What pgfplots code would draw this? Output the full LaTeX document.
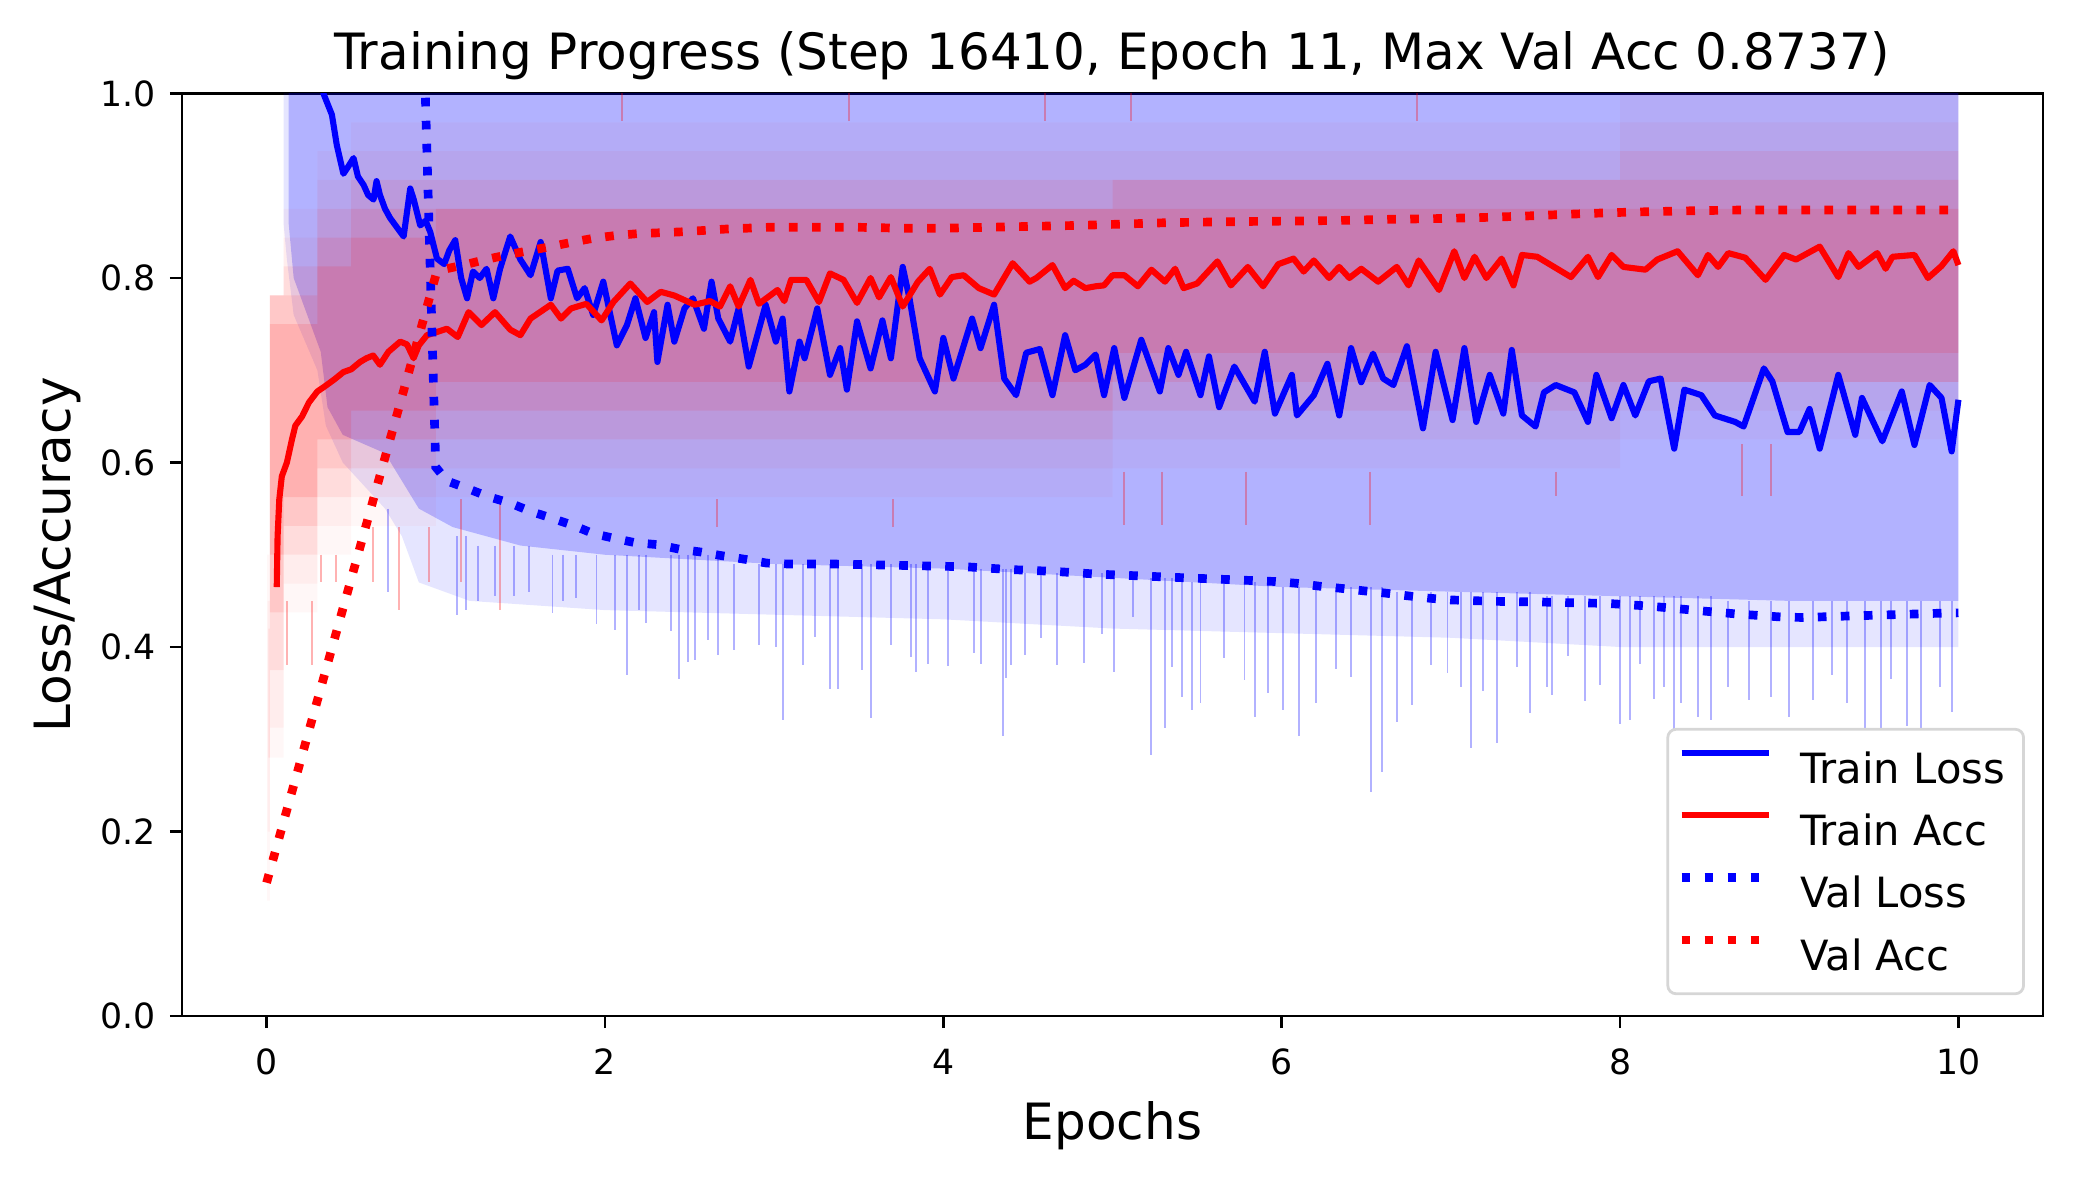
\documentclass[border=0pt]{standalone}
\usepackage{fontspec}
\setmainfont{DejaVu Sans}
\usepackage{pgfplots}
\pgfplotsset{compat=1.18}
\begin{document}
\begin{tikzpicture}
\path[use as bounding box] (0,0) rectangle (746.28pt,423.36pt);
\begin{axis}[
  at={(65.52pt,57.6pt)}, anchor=south west,
  scale only axis, width=669.96pt, height=332.1pt,
  xmin=-0.5, xmax=10.5, ymin=0, ymax=1,
  xtick={0,2,4,6,8,10}, ytick={0,0.2,0.4,0.6,0.8,1.0},
  tick pos=left, tick align=outside, major tick length=4.375pt,
  tick style={black, line width=1pt},
  axis line style={line width=1pt, black},
  /pgf/number format/assume math mode=true,
  tick label style={font=\fontsize{12.5}{15}\selectfont},
  yticklabel style={/pgf/number format/fixed, /pgf/number format/fixed zerofill, /pgf/number format/precision=1, anchor=east, inner sep=0pt, xshift=-5.0pt},
  xticklabel style={anchor=base, inner sep=0pt, yshift=-16.6pt},
  every axis title shift=0pt,
  title={Training Progress (Step 16410, Epoch 11, Max Val Acc 0.8737)},
  title style={at={(axis description cs:0.5,1.0265)}, anchor=base, inner sep=0pt, font=\fontsize{18}{21.6}\selectfont},
  xlabel={Epochs},
  xlabel style={at={(axis description cs:0.5,-0.1334)}, anchor=base, inner sep=0pt, font=\fontsize{18}{21.6}\selectfont},
  ylabel={Loss/Accuracy},
  ylabel style={at={(axis description cs:-0.0599,0.5)}, anchor=base, rotate=0, inner sep=0pt, font=\fontsize{18}{21.6}\selectfont},
  legend style={at={(axis description cs:1,0)}, anchor=south east, xshift=-6.5pt, yshift=7.5pt,
    draw=black!16, line width=1pt, rounded corners=3pt, fill=white,
    inner xsep=3.4pt, inner ysep=7pt, row sep=8.5pt,
    font=\fontsize{15}{18}\selectfont,
    nodes={inner sep=0pt, text height=12.4pt, text depth=1.5pt},
    /tikz/every odd column/.append style={column sep=9.7pt}},
  legend cell align=left,
  legend image code/.code={\draw[#1] (0pt,5.45pt) -- (31.5pt,5.45pt);},
]
% ---------- raw training loss (light blue) ----------
\addplot[fill=blue, fill opacity=0.1, draw=none, forget plot] coordinates {
(0.10,1.05) (10.0,1.05) (10.0,0.40) (9,0.40) (8,0.40) (7,0.41) (6,0.415) (5,0.42) (4,0.43) (3,0.435) (2,0.44) (1.2,0.45) (0.9,0.47) (0.8,0.52) (0.7,0.55) (0.45,0.60) (0.35,0.64) (0.3,0.70) (0.16,0.76) (0.12,0.82) (0.10,0.86)};
\addplot[fill=blue, fill opacity=0.222, draw=none, forget plot] coordinates {
(0.13,1.05) (10.0,1.05) (10.0,0.45) (9,0.45) (8,0.455) (7,0.46) (6,0.465) (5,0.475) (4,0.485) (3,0.49) (2,0.50) (1.5,0.51) (1.1,0.53) (0.9,0.55) (0.8,0.58) (0.7,0.61) (0.45,0.63) (0.36,0.66) (0.32,0.72) (0.2,0.78) (0.16,0.80) (0.13,0.86)};
\addplot[draw=blue, draw opacity=0.3, line width=0.7pt, unbounded coords=jump, forget plot] table[row sep=\\] {
x y\\
0.72 0.55\\ 0.72 0.46\\ nan nan\\
1.125 0.52\\ 1.125 0.435\\ nan nan\\
1.18 0.52\\ 1.18 0.44\\ nan nan\\
1.25 0.51\\ 1.25 0.45\\ nan nan\\
1.35 0.51\\ 1.35 0.455\\ nan nan\\
1.46 0.51\\ 1.46 0.455\\ nan nan\\
1.55 0.51\\ 1.55 0.46\\ nan nan\\
1.69 0.50\\ 1.69 0.437\\ nan nan\\
1.75 0.50\\ 1.75 0.45\\ nan nan\\
1.83 0.50\\ 1.83 0.453\\ nan nan\\
1.95 0.50\\ 1.95 0.425\\ nan nan\\
2.06 0.50\\ 2.06 0.418\\ nan nan\\
2.13 0.50\\ 2.13 0.370\\ nan nan\\
2.20 0.50\\ 2.20 0.44\\ nan nan\\
2.24 0.50\\ 2.24 0.426\\ nan nan\\
2.39 0.50\\ 2.39 0.417\\ nan nan\\
2.44 0.50\\ 2.44 0.365\\ nan nan\\
2.49 0.50\\ 2.49 0.384\\ nan nan\\
2.53 0.50\\ 2.53 0.386\\ nan nan\\
2.61 0.50\\ 2.61 0.408\\ nan nan\\
2.67 0.50\\ 2.67 0.391\\ nan nan\\
2.76 0.49\\ 2.76 0.397\\ nan nan\\
2.91 0.49\\ 2.91 0.402\\ nan nan\\
3.01 0.49\\ 3.01 0.400\\ nan nan\\
3.05 0.49\\ 3.05 0.321\\ nan nan\\
3.17 0.49\\ 3.17 0.380\\ nan nan\\
3.24 0.49\\ 3.24 0.411\\ nan nan\\
3.33 0.49\\ 3.33 0.355\\ nan nan\\
3.38 0.49\\ 3.38 0.355\\ nan nan\\
3.52 0.49\\ 3.52 0.375\\ nan nan\\
3.57 0.49\\ 3.57 0.323\\ nan nan\\
3.69 0.49\\ 3.69 0.402\\ nan nan\\
3.81 0.49\\ 3.81 0.389\\ nan nan\\
3.84 0.49\\ 3.84 0.373\\ nan nan\\
3.91 0.49\\ 3.91 0.382\\ nan nan\\
4.03 0.485\\ 4.03 0.379\\ nan nan\\
4.18 0.485\\ 4.18 0.393\\ nan nan\\
4.22 0.485\\ 4.22 0.382\\ nan nan\\
4.35 0.485\\ 4.35 0.303\\ nan nan\\
4.37 0.485\\ 4.37 0.366\\ nan nan\\
4.40 0.485\\ 4.40 0.380\\ nan nan\\
4.48 0.48\\ 4.48 0.391\\ nan nan\\
4.58 0.48\\ 4.58 0.41\\ nan nan\\
4.67 0.48\\ 4.67 0.380\\ nan nan\\
4.83 0.48\\ 4.83 0.383\\ nan nan\\
4.94 0.48\\ 4.94 0.414\\ nan nan\\
5.01 0.475\\ 5.01 0.373\\ nan nan\\
5.12 0.475\\ 5.12 0.433\\ nan nan\\
5.23 0.475\\ 5.23 0.283\\ nan nan\\
5.31 0.475\\ 5.31 0.312\\ nan nan\\
5.35 0.475\\ 5.35 0.378\\ nan nan\\
5.41 0.47\\ 5.41 0.346\\ nan nan\\
5.47 0.47\\ 5.47 0.332\\ nan nan\\
5.52 0.47\\ 5.52 0.339\\ nan nan\\
5.66 0.47\\ 5.66 0.388\\ nan nan\\
5.78 0.47\\ 5.78 0.364\\ nan nan\\
5.84 0.47\\ 5.84 0.324\\ nan nan\\
5.92 0.47\\ 5.92 0.350\\ nan nan\\
6.01 0.465\\ 6.01 0.332\\ nan nan\\
6.105 0.465\\ 6.105 0.303\\ nan nan\\
6.20 0.465\\ 6.20 0.339\\ nan nan\\
6.32 0.465\\ 6.32 0.376\\ nan nan\\
6.41 0.465\\ 6.41 0.367\\ nan nan\\
6.53 0.465\\ 6.53 0.243\\ nan nan\\
6.595 0.465\\ 6.595 0.265\\ nan nan\\
6.68 0.46\\ 6.68 0.319\\ nan nan\\
6.77 0.46\\ 6.77 0.337\\ nan nan\\
6.88 0.46\\ 6.88 0.38\\ nan nan\\
6.98 0.46\\ 6.98 0.372\\ nan nan\\
7.06 0.46\\ 7.06 0.357\\ nan nan\\
7.12 0.46\\ 7.12 0.290\\ nan nan\\
7.19 0.46\\ 7.19 0.352\\ nan nan\\
7.27 0.46\\ 7.27 0.296\\ nan nan\\
7.39 0.46\\ 7.39 0.378\\ nan nan\\
7.47 0.46\\ 7.47 0.328\\ nan nan\\
7.57 0.455\\ 7.57 0.357\\ nan nan\\
7.60 0.455\\ 7.60 0.348\\ nan nan\\
7.69 0.455\\ 7.69 0.39\\ nan nan\\
7.79 0.455\\ 7.79 0.341\\ nan nan\\
7.88 0.455\\ 7.88 0.359\\ nan nan\\
8.00 0.455\\ 8.00 0.317\\ nan nan\\
8.06 0.455\\ 8.06 0.321\\ nan nan\\
8.12 0.455\\ 8.12 0.382\\ nan nan\\
8.20 0.455\\ 8.20 0.344\\ nan nan\\
8.26 0.455\\ 8.26 0.357\\ nan nan\\
8.32 0.455\\ 8.32 0.292\\ nan nan\\
8.36 0.455\\ 8.36 0.339\\ nan nan\\
8.46 0.455\\ 8.46 0.324\\ nan nan\\
8.54 0.455\\ 8.54 0.321\\ nan nan\\
8.64 0.45\\ 8.64 0.357\\ nan nan\\
8.76 0.45\\ 8.76 0.343\\ nan nan\\
8.89 0.45\\ 8.89 0.346\\ nan nan\\
9.00 0.45\\ 9.00 0.324\\ nan nan\\
9.14 0.45\\ 9.14 0.343\\ nan nan\\
9.25 0.45\\ 9.25 0.37\\ nan nan\\
9.34 0.45\\ 9.34 0.339\\ nan nan\\
9.45 0.45\\ 9.45 0.310\\ nan nan\\
9.54 0.45\\ 9.54 0.312\\ nan nan\\
9.60 0.45\\ 9.60 0.365\\ nan nan\\
9.695 0.45\\ 9.695 0.314\\ nan nan\\
9.78 0.45\\ 9.78 0.292\\ nan nan\\
9.89 0.45\\ 9.89 0.357\\ nan nan\\
9.96 0.45\\ 9.96 0.330\\ nan nan\\
};
% ---------- raw training accuracy (light red), quantised levels ----------
\addplot[fill=red, fill opacity=0.03, draw=none, forget plot] coordinates {
(0.003,0.5) (0.02,0.5) (0.02,0.78125) (0.1,0.78125) (0.1,0.875) (0.3,0.875) (0.3,0.9375) (0.5,0.9375) (0.5,0.96875) (1,0.96875) (5,0.96875) (8,0.96875) (8,1.0) (10,1.0)
(10,0.625) (8,0.625) (8,0.59375) (5,0.59375) (5,0.5625) (1,0.5625) (1,0.53125) (0.5,0.53125) (0.5,0.5) (0.3,0.5) (0.3,0.4375) (0.1,0.4375) (0.1,0.28) (0.02,0.28) (0.02,0.125) (0.003,0.125)};
\addplot[fill=red, fill opacity=0.04, draw=none, forget plot] coordinates {
(0.006,0.45) (0.02,0.45) (0.02,0.78125) (0.1,0.78125) (0.1,0.84375) (0.3,0.84375) (0.3,0.90625) (0.5,0.90625) (0.5,0.9375) (1,0.9375) (5,0.9375) (8,0.9375) (8,0.96875) (10,0.96875)
(10,0.65625) (8,0.65625) (8,0.625) (5,0.625) (5,0.59375) (1,0.59375) (1,0.5625) (0.5,0.5625) (0.5,0.53125) (0.3,0.53125) (0.3,0.46875) (0.1,0.46875) (0.1,0.3125) (0.02,0.3125) (0.02,0.2) (0.006,0.2)};
\addplot[fill=red, fill opacity=0.07, draw=none, forget plot] coordinates {
(0.01,0.42) (0.02,0.42) (0.02,0.78125) (0.1,0.78125) (0.1,0.8125) (0.3,0.8125) (0.3,0.875) (0.5,0.875) (0.5,0.90625) (1,0.90625) (5,0.90625) (8,0.90625) (8,0.9375) (10,0.9375)
(10,0.6875) (8,0.6875) (8,0.65625) (5,0.65625) (5,0.625) (1,0.625) (1,0.59375) (0.5,0.59375) (0.5,0.5625) (0.3,0.5625) (0.3,0.5) (0.1,0.5) (0.1,0.375) (0.02,0.375) (0.02,0.28) (0.01,0.28)};
\addplot[fill=red, fill opacity=0.09, draw=none, forget plot] coordinates {
(0.02,0.78125) (0.1,0.78125) (0.3,0.78125) (0.3,0.84375) (0.5,0.84375) (0.5,0.875) (1,0.875) (5,0.875) (5,0.90625) (8,0.90625) (10,0.90625)
(10,0.6875) (8,0.6875) (5,0.6875) (5,0.65625) (1,0.65625) (1,0.625) (0.5,0.625) (0.5,0.59375) (0.3,0.59375) (0.3,0.53125) (0.1,0.53125) (0.1,0.4375) (0.02,0.4375)};
\addplot[fill=red, fill opacity=0.112, draw=none, forget plot] coordinates {
(0.02,0.75) (0.1,0.75) (0.3,0.75) (0.3,0.8125) (0.5,0.8125) (0.5,0.84375) (1,0.84375) (1,0.875) (5,0.875) (8,0.875) (10,0.875)
(10,0.71875) (8,0.71875) (5,0.71875) (5,0.6875) (1,0.6875) (1,0.65625) (0.5,0.65625) (0.5,0.625) (0.3,0.625) (0.3,0.5625) (0.1,0.5625) (0.1,0.5) (0.02,0.5)};
\addplot[draw=red, draw opacity=0.3, line width=0.7pt, unbounded coords=jump, forget plot] table[row sep=\\] {
x y\\
0.12 0.45\\ 0.12 0.38\\ nan nan\\
0.27 0.45\\ 0.27 0.38\\ nan nan\\
0.32 0.50\\ 0.32 0.47\\ nan nan\\
0.41 0.50\\ 0.41 0.47\\ nan nan\\
0.63 0.53\\ 0.63 0.47\\ nan nan\\
0.78 0.53\\ 0.78 0.44\\ nan nan\\
0.96 0.53\\ 0.96 0.47\\ nan nan\\
1.15 0.56\\ 1.15 0.47\\ nan nan\\
1.38 0.56\\ 1.38 0.44\\ nan nan\\
2.66 0.56\\ 2.66 0.53\\ nan nan\\
3.70 0.56\\ 3.70 0.53\\ nan nan\\
5.07 0.59\\ 5.07 0.532\\ nan nan\\
5.29 0.59\\ 5.29 0.532\\ nan nan\\
5.79 0.59\\ 5.79 0.532\\ nan nan\\
6.52 0.59\\ 6.52 0.532\\ nan nan\\
7.62 0.59\\ 7.62 0.564\\ nan nan\\
8.72 0.62\\ 8.72 0.564\\ nan nan\\
8.89 0.62\\ 8.89 0.564\\ nan nan\\
2.10 0.97\\ 2.10 1.0\\ nan nan\\
3.44 0.97\\ 3.44 1.0\\ nan nan\\
4.60 0.97\\ 4.60 1.0\\ nan nan\\
5.11 0.97\\ 5.11 1.0\\ nan nan\\
6.80 0.97\\ 6.80 1.0\\ nan nan\\
};
% ---------- smoothed training loss ----------
\addplot[blue, line width=2.2pt, line join=round] coordinates {
(0.06,1.5) (0.2,1.15) (0.336,1.0) (0.386,0.977) (0.415,0.944) (0.454,0.913) (0.48,0.92) (0.514,0.930) (0.54,0.91) (0.573,0.901) (0.60,0.89) (0.632,0.885) (0.65,0.905) (0.67,0.89) (0.70,0.875) (0.73,0.865) (0.77,0.855) (0.81,0.845) (0.849,0.897) (0.87,0.885) (0.908,0.857) (0.94,0.862) (0.967,0.850) (1.007,0.821) (1.05,0.815) (1.08,0.83) (1.115,0.841) (1.15,0.80) (1.185,0.778) (1.22,0.807) (1.26,0.80) (1.30,0.81) (1.34,0.778) (1.38,0.81) (1.44,0.845) (1.50,0.82) (1.56,0.803) (1.62,0.839) (1.68,0.778) (1.72,0.808) (1.78,0.810) (1.835,0.778) (1.88,0.789) (1.93,0.760) (1.99,0.796) (2.07,0.727) (2.13,0.749) (2.18,0.778) (2.24,0.735) (2.29,0.763) (2.31,0.709) (2.37,0.771) (2.41,0.731) (2.47,0.767) (2.52,0.778) (2.585,0.745) (2.63,0.796) (2.67,0.756) (2.74,0.731) (2.79,0.767) (2.85,0.704) (2.95,0.771) (3.01,0.731) (3.05,0.756) (3.09,0.677) (3.15,0.731) (3.18,0.713) (3.255,0.767) (3.33,0.695) (3.39,0.724) (3.43,0.679) (3.49,0.753) (3.57,0.702) (3.64,0.754) (3.69,0.713) (3.76,0.812) (3.80,0.778) (3.86,0.713) (3.95,0.677) (4.0,0.735) (4.06,0.691) (4.17,0.756) (4.22,0.724) (4.30,0.771) (4.36,0.691) (4.43,0.673) (4.49,0.719) (4.57,0.723) (4.645,0.673) (4.72,0.738) (4.78,0.70) (4.84,0.706) (4.90,0.717) (4.95,0.673) (5.01,0.724) (5.07,0.670) (5.17,0.733) (5.28,0.677) (5.33,0.724) (5.39,0.695) (5.435,0.72) (5.52,0.673) (5.57,0.715) (5.63,0.660) (5.72,0.704) (5.84,0.666) (5.90,0.720) (5.96,0.653) (6.06,0.695) (6.09,0.651) (6.19,0.673) (6.27,0.707) (6.34,0.651) (6.41,0.724) (6.47,0.687) (6.54,0.718) (6.60,0.691) (6.66,0.684) (6.74,0.726) (6.835,0.637) (6.91,0.72) (7.01,0.646) (7.08,0.724) (7.15,0.644) (7.23,0.695) (7.31,0.653) (7.36,0.722) (7.42,0.651) (7.50,0.639) (7.55,0.676) (7.62,0.684) (7.73,0.676) (7.81,0.644) (7.86,0.695) (7.95,0.648) (8.02,0.684) (8.09,0.651) (8.17,0.688) (8.24,0.691) (8.32,0.615) (8.38,0.679) (8.48,0.673) (8.56,0.651) (8.68,0.644) (8.73,0.639) (8.85,0.702) (8.90,0.688) (8.99,0.633) (9.06,0.633) (9.12,0.658) (9.18,0.615) (9.29,0.695) (9.39,0.630) (9.43,0.67) (9.55,0.623) (9.665,0.677) (9.74,0.619) (9.83,0.684) (9.90,0.67) (9.96,0.612) (10.0,0.668)};
\addlegendentry{Train Loss\rule{3.3pt}{0pt}}
% ---------- smoothed training accuracy ----------
\addplot[red, line width=2.2pt, line join=round] coordinates {
(0.06,0.465) (0.065,0.52) (0.075,0.56) (0.09,0.585) (0.12,0.60) (0.15,0.625) (0.17,0.64) (0.21,0.65) (0.25,0.665) (0.30,0.677) (0.34,0.682) (0.40,0.69) (0.454,0.698) (0.50,0.701) (0.553,0.709) (0.59,0.713) (0.63,0.716) (0.67,0.706) (0.72,0.72) (0.79,0.731) (0.83,0.728) (0.869,0.713) (0.90,0.727) (0.948,0.738) (1.066,0.745) (1.13,0.736) (1.194,0.763) (1.27,0.749) (1.35,0.763) (1.44,0.744) (1.50,0.738) (1.56,0.756) (1.68,0.771) (1.74,0.756) (1.80,0.767) (1.89,0.772) (1.98,0.754) (2.05,0.774) (2.15,0.794) (2.25,0.774) (2.33,0.785) (2.41,0.781) (2.53,0.771) (2.62,0.775) (2.68,0.769) (2.74,0.791) (2.79,0.769) (2.86,0.798) (2.91,0.772) (3.02,0.787) (3.06,0.775) (3.10,0.798) (3.19,0.798) (3.265,0.774) (3.33,0.805) (3.41,0.798) (3.49,0.773) (3.57,0.80) (3.62,0.779) (3.69,0.801) (3.76,0.769) (3.85,0.796) (3.92,0.81) (3.98,0.782) (4.05,0.801) (4.12,0.803) (4.21,0.789) (4.30,0.782) (4.41,0.816) (4.51,0.796) (4.55,0.80) (4.645,0.814) (4.72,0.789) (4.77,0.797) (4.84,0.789) (4.90,0.791) (4.95,0.792) (5.0,0.803) (5.07,0.803) (5.15,0.791) (5.23,0.809) (5.31,0.796) (5.37,0.81) (5.42,0.789) (5.50,0.794) (5.62,0.818) (5.70,0.792) (5.80,0.812) (5.89,0.791) (5.98,0.815) (6.07,0.821) (6.13,0.807) (6.19,0.819) (6.28,0.80) (6.34,0.812) (6.40,0.80) (6.47,0.81) (6.57,0.796) (6.68,0.812) (6.75,0.792) (6.81,0.819) (6.93,0.787) (7.02,0.829) (7.08,0.80) (7.14,0.823) (7.21,0.80) (7.30,0.821) (7.37,0.792) (7.42,0.825) (7.51,0.823) (7.61,0.812) (7.71,0.801) (7.81,0.823) (7.87,0.801) (7.95,0.825) (8.02,0.812) (8.15,0.809) (8.22,0.82) (8.34,0.829) (8.46,0.803) (8.52,0.825) (8.58,0.812) (8.64,0.827) (8.74,0.822) (8.86,0.798) (8.97,0.825) (9.04,0.82) (9.18,0.834) (9.29,0.801) (9.35,0.827) (9.41,0.812) (9.52,0.827) (9.57,0.81) (9.61,0.823) (9.74,0.825) (9.82,0.80) (9.90,0.813) (9.97,0.829) (10.0,0.814)};
\addlegendentry{Train Acc}
% ---------- validation loss ----------
\addplot[blue, line width=3.125pt, dash pattern=on 3.125pt off 5.16pt] coordinates {
(0,7.13) (1.0,0.595) (1.066,0.58) (1.185,0.572) (1.31,0.563) (1.44,0.556) (1.56,0.547) (1.68,0.540) (1.81,0.532) (1.93,0.523) (2.05,0.518) (2.18,0.513) (2.31,0.511) (2.44,0.506) (2.565,0.503) (2.69,0.499) (2.83,0.495) (2.955,0.491) (3.08,0.490) (3.34,0.490) (3.61,0.489) (3.87,0.488) (4.13,0.487) (4.39,0.484) (4.65,0.482) (4.91,0.479) (5.17,0.477) (5.43,0.475) (5.70,0.473) (5.96,0.471) (6.09,0.469) (6.22,0.466) (6.35,0.4636) (6.48,0.461) (6.61,0.4585) (6.74,0.4556) (6.865,0.453) (7.00,0.451) (7.26,0.4495) (7.52,0.4488) (7.78,0.4477) (7.91,0.4474) (8.17,0.4444) (8.43,0.440) (8.69,0.4358) (8.955,0.4325) (9.08,0.432) (9.35,0.4336) (9.61,0.435) (9.87,0.4365) (10.0,0.437)};
\addlegendentry{Val Loss}
% ---------- validation accuracy ----------
\addplot[red, line width=3.125pt, dash pattern=on 3.125pt off 5.16pt] coordinates {
(0,0.1445) (1.0,0.803) (1.036,0.809) (1.165,0.814) (1.283,0.8195) (1.42,0.825) (1.55,0.8296) (1.68,0.834) (1.81,0.839) (1.93,0.843) (2.06,0.846) (2.19,0.848) (2.45,0.850) (2.71,0.853) (2.97,0.855) (3.23,0.855) (3.49,0.855) (3.75,0.854) (4.01,0.854) (4.27,0.855) (4.53,0.856) (4.80,0.857) (5.07,0.8585) (5.33,0.860) (5.59,0.8607) (5.85,0.8614) (6.11,0.8618) (6.37,0.8625) (6.63,0.8636) (6.89,0.8643) (7.16,0.8654) (7.42,0.867) (7.68,0.869) (7.94,0.8708) (8.20,0.872) (8.46,0.873) (8.72,0.8737) (8.99,0.8737) (9.25,0.8737) (9.51,0.8737) (9.77,0.8737) (10.0,0.8737)};
\addlegendentry{Val Acc}
\end{axis}
\end{tikzpicture}
\end{document}
